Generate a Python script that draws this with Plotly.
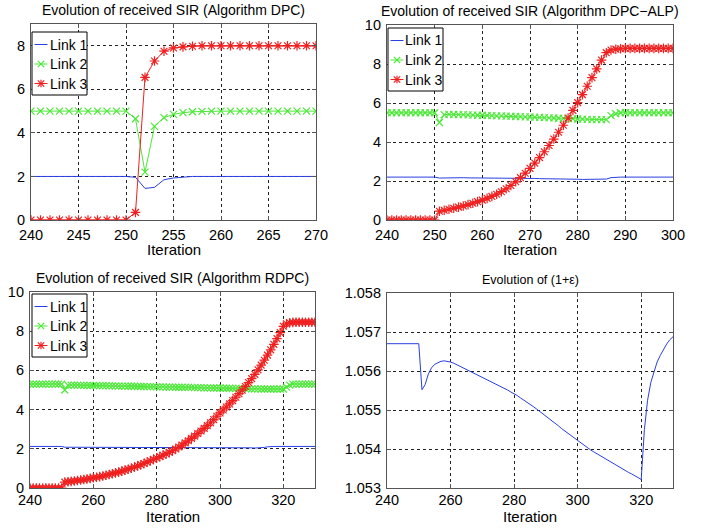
import plotly.graph_objects as go

W, H = 711, 529

# ---------------- Panel 1: DPC ----------------
it1 = list(range(240, 271))
dpc_l1 = [2.0]*11 + [1.96, 1.45, 1.50, 1.85, 1.93, 1.97, 2.0] + [2.0]*13
dpc_l2 = [5.0]*11 + [4.65, 2.2, 4.3, 4.7, 4.85, 4.93, 4.97, 4.99] + [5.0]*12
dpc_l3 = [0.0]*11 + [0.35, 6.55, 7.3, 7.75, 7.9, 7.95, 7.98] + [8.0]*13

# ---------------- Panel 2: DPC-ALP ----------------
it2 = list(range(240, 301))
alp_l1 = ([2.2]*11 + [2.15, 2.16, 2.17, 2.17, 2.17, 2.17, 2.16, 2.16, 2.16, 2.16,
                       2.15, 2.15, 2.15, 2.15, 2.14, 2.14, 2.14, 2.14, 2.13, 2.13,
                       2.13, 2.12, 2.12, 2.12, 2.11, 2.11, 2.10, 2.10, 2.09, 2.09,
                       2.08, 2.08, 2.08, 2.08, 2.08, 2.10, 2.17, 2.20] + [2.2]*12)
alp_l2 = ([5.5]*11 + [5.0, 5.40, 5.42, 5.41, 5.40, 5.40, 5.39, 5.38, 5.37, 5.37,
                       5.36, 5.35, 5.34, 5.34, 5.33, 5.32, 5.31, 5.30, 5.29, 5.28,
                       5.27, 5.26, 5.25, 5.24, 5.23, 5.22, 5.21, 5.20, 5.19, 5.18,
                       5.17, 5.16, 5.15, 5.15, 5.15, 5.15, 5.35, 5.45] + [5.5]*12)
alp_l3 = ([0.0]*11 + [0.45, 0.50, 0.55, 0.60, 0.66, 0.72, 0.79, 0.86, 0.94, 1.02,
                       1.11, 1.21, 1.32, 1.45, 1.60, 1.77, 1.96, 2.17, 2.40, 2.65,
                       2.92, 3.20, 3.50, 3.82, 4.15, 4.50, 4.86, 5.23, 5.62, 6.02,
                       6.43, 6.86, 7.30, 7.75, 8.20, 8.58, 8.72, 8.76, 8.78] + [8.8]*11)

# ---------------- Panel 3: RDPC ----------------
it3 = list(range(240, 331))
rdpc_l1 = ([2.12]*11 + [2.08]*20 + [2.07]*20 + [2.06]*15 + [2.05]*5 + [2.04]*3
           + [2.07, 2.10] + [2.12]*15)
rdpc_l2 = ([5.3]*11 + [5.0, 5.24, 5.25, 5.25, 5.25, 5.24, 5.24, 5.24, 5.23, 5.23,
                       5.23, 5.22, 5.22, 5.22, 5.21, 5.21, 5.21, 5.20, 5.20, 5.20,
                       5.19, 5.19, 5.19, 5.18, 5.18, 5.18, 5.17, 5.17, 5.17, 5.16,
                       5.16, 5.16, 5.15, 5.15, 5.15, 5.14, 5.14, 5.14, 5.13, 5.13,
                       5.13, 5.12, 5.12, 5.12, 5.11, 5.11, 5.11, 5.10, 5.10, 5.10,
                       5.09, 5.09, 5.09, 5.08, 5.08, 5.08, 5.07, 5.07, 5.07, 5.06,
                       5.06, 5.06, 5.05, 5.05, 5.05, 5.05, 5.05, 5.05, 5.05, 5.05,
                       5.15, 5.25] + [5.3]*8)
rdpc_l3 = ([0.0]*11 + [0.30, 0.32, 0.34, 0.36, 0.38, 0.41, 0.43, 0.46, 0.49, 0.52,
                        0.55, 0.58, 0.61, 0.65, 0.69, 0.73, 0.77, 0.81, 0.86, 0.91,
                        0.96, 1.01, 1.07, 1.13, 1.19, 1.25, 1.32, 1.39, 1.46, 1.53,
                        1.60, 1.67, 1.74, 1.82, 1.90, 1.99, 2.09, 2.19, 2.30, 2.41,
                        2.53, 2.65, 2.78, 2.91, 3.04, 3.18, 3.33, 3.49, 3.66, 3.83,
                        3.98, 4.13, 4.29, 4.46, 4.63, 4.81, 4.99, 5.18, 5.38, 5.58,
                        5.80, 6.03, 6.27, 6.52, 6.78, 7.05, 7.33, 7.62, 7.93, 8.25,
                        8.38, 8.43, 8.45] + [8.46]*7)

# ---------------- Panel 4: (1+eps) ----------------
it4 = list(range(240, 331))
eps = ([1.05670]*11 + [1.05552, 1.05565, 1.05592, 1.05608, 1.05617, 1.05622, 1.05625,
                       1.05626, 1.05625,
                       1.05623, 1.05620, 1.05616, 1.05612, 1.05608, 1.05604, 1.05600,
                       1.05596, 1.05592, 1.05589, 1.05585, 1.05581, 1.05577, 1.05572,
                       1.05568, 1.05564, 1.05560, 1.05555, 1.05551, 1.05546, 1.05542,
                       1.05537, 1.05531, 1.05526, 1.05520, 1.05515, 1.05509, 1.05503,
                       1.05497, 1.05491, 1.05485, 1.05478, 1.05472, 1.05465, 1.05459,
                       1.05452, 1.05446, 1.05439, 1.05433, 1.05426, 1.05420, 1.05414,
                       1.05409, 1.05403, 1.05398, 1.05393, 1.05388, 1.05383, 1.05378,
                       1.05373, 1.05368, 1.05363, 1.05359, 1.05354, 1.05349, 1.05345,
                       1.05340, 1.05336, 1.05331, 1.05327, 1.05322,
                       1.05450, 1.05525, 1.05570, 1.05600, 1.05623, 1.05640, 1.05655,
                       1.05669, 1.05680, 1.05688])

titles = ["Evolution of received SIR (Algorithm DPC)",
          "Evolution of received SIR (Algorithm DPC\u2212ALP)",
          "Evolution of received SIR (Algorithm RDPC)",
          "Evolution of (1+\u03b5)"]
title_sizes = [14, 14, 14, 12.5]
link_names = ["Link 1", "Link 2", "Link 3"]
x_title = "Iteration"

BLUE = "#2a3fe0"
GREEN = "#4ee83a"
RED = "#f02020"
FONT = "Liberation Sans, Arial, sans-serif"

# pixel boxes of plot areas: (left, right, top, bottom)
boxes = [(31, 316, 24, 220), (387, 673, 25, 220), (30, 315, 292, 488), (387, 673, 293, 488)]
xlabel_y = [249, 249, 516, 516]
xtick_standoff = [1, 1, -2, -2]

def px(x):
    return x / W

def py(y):
    return 1 - y / H

fig = go.Figure()

sets = [
    (it1, [dpc_l1, dpc_l2, dpc_l3]),
    (it2, [alp_l1, alp_l2, alp_l3]),
    (it3, [rdpc_l1, rdpc_l2, rdpc_l3]),
]
for k, (xs, ys) in enumerate(sets):
    ax = "" if k == 0 else str(k + 1)
    fig.add_trace(go.Scatter(x=xs, y=ys[0], mode="lines", name=link_names[0],
                             line=dict(color=BLUE, width=1), xaxis="x" + ax, yaxis="y" + ax))
    fig.add_trace(go.Scatter(x=xs, y=ys[1], mode="lines+markers", name=link_names[1],
                             line=dict(color=GREEN, width=1),
                             marker=dict(symbol="x-thin-open", size=7,
                                         line=dict(color=GREEN, width=1.2)),
                             xaxis="x" + ax, yaxis="y" + ax))
    fig.add_trace(go.Scatter(x=xs, y=ys[2], mode="lines+markers", name=link_names[2],
                             line=dict(color=RED, width=1),
                             marker=dict(symbol="asterisk-open", size=8,
                                         line=dict(color=RED, width=1.2)),
                             xaxis="x" + ax, yaxis="y" + ax))

fig.add_trace(go.Scatter(x=it4, y=eps, mode="lines", line=dict(color=BLUE, width=1),
                         xaxis="x4", yaxis="y4"))

xranges = [[240, 270], [240, 300], [240, 330], [240, 330]]
xdt = [5, 10, 20, 20]
yranges = [[0, 9], [0, 10], [0, 10], [1.053, 1.058]]
ydt = [2, 2, 2, 0.001]

layout = dict(width=W, height=H, margin=dict(l=0, r=0, t=0, b=0, autoexpand=False),
              paper_bgcolor="white", plot_bgcolor="white", showlegend=False,
              font=dict(family=FONT, color="black", size=14))
annotations = []
shapes = []
for k, b in enumerate(boxes):
    l, r, t, bt = b
    ax = "" if k == 0 else str(k + 1)
    common = dict(showline=True, linecolor="#555", linewidth=1.2, mirror="ticks",
                  ticks="inside", ticklen=4, tickcolor="#555", automargin=False,
                  showgrid=True, gridcolor="#222", griddash="dot", gridwidth=1,
                  zeroline=False, tickfont=dict(size=14.5, family=FONT, color="black"))
    layout["xaxis" + ax] = dict(domain=[px(l), px(r)], range=xranges[k], dtick=xdt[k],
                                tick0=240, anchor="y" + ax,
                                ticklabelstandoff=xtick_standoff[k], **common)
    yextra = dict(tickformat=".3f") if k == 3 else {}
    layout["yaxis" + ax] = dict(domain=[py(bt), py(t)], range=yranges[k], dtick=ydt[k],
                                tick0=yranges[k][0], anchor="x" + ax,
                                ticklabelstandoff=2, **yextra, **common)
    annotations.append(dict(text=titles[k], xref="x" + ax + " domain", yref="y" + ax + " domain",
                            x=0.5, y=1, yanchor="bottom", xanchor="center", yshift=4,
                            showarrow=False, font=dict(size=title_sizes[k], family=FONT)))
    annotations.append(dict(text=x_title, xref="paper", yref="paper",
                            x=px((l + r) / 2), y=py(xlabel_y[k]), xanchor="center",
                            yanchor="middle", showarrow=False,
                            font=dict(size=15, family=FONT)))

# MATLAB-style compact legend boxes (top-left of each SIR panel)
legend_boxes = [(32, 32), (388, 28), (32, 294)]
LW, LH = 55, 63
row_dy = [12.5, 32, 51.5]
styles = [(BLUE, None), (GREEN, "x"), (RED, "*")]
for (bx, by) in legend_boxes:
    shapes.append(dict(type="rect", xref="paper", yref="paper",
                       x0=px(bx), x1=px(bx + LW), y0=py(by + LH), y1=py(by),
                       line=dict(color="black", width=1), fillcolor="white", layer="above"))
    for j, (col, mk) in enumerate(styles):
        cy = by + row_dy[j]
        shapes.append(dict(type="line", xref="paper", yref="paper",
                           x0=px(bx + 2.5), x1=px(bx + 15.5), y0=py(cy), y1=py(cy),
                           line=dict(color=col, width=1), layer="above"))
        cx = bx + 9
        s = 3.2
        segs = []
        if mk in ("x", "*"):
            segs += [((-s, -s), (s, s)), ((-s, s), (s, -s))]
        if mk == "*":
            segs += [((-s * 1.2, 0), (s * 1.2, 0)), ((0, -s * 1.2), (0, s * 1.2))]
        for (a, c) in segs:
            shapes.append(dict(type="line", xref="paper", yref="paper",
                               x0=px(cx + a[0]), y0=py(cy + a[1]),
                               x1=px(cx + c[0]), y1=py(cy + c[1]),
                               line=dict(color=col, width=1.2), layer="above"))
        annotations.append(dict(text=link_names[j], xref="paper", yref="paper",
                                x=px(bx + 15.5), y=py(cy), xanchor="left", yanchor="middle",
                                showarrow=False, font=dict(size=14, family=FONT)))

layout["annotations"] = annotations
layout["shapes"] = shapes

fig.update_layout(**layout)
fig.write_html("out.html", config={"displayModeBar": False},
               post_script="document.body.style.margin='0px';")
